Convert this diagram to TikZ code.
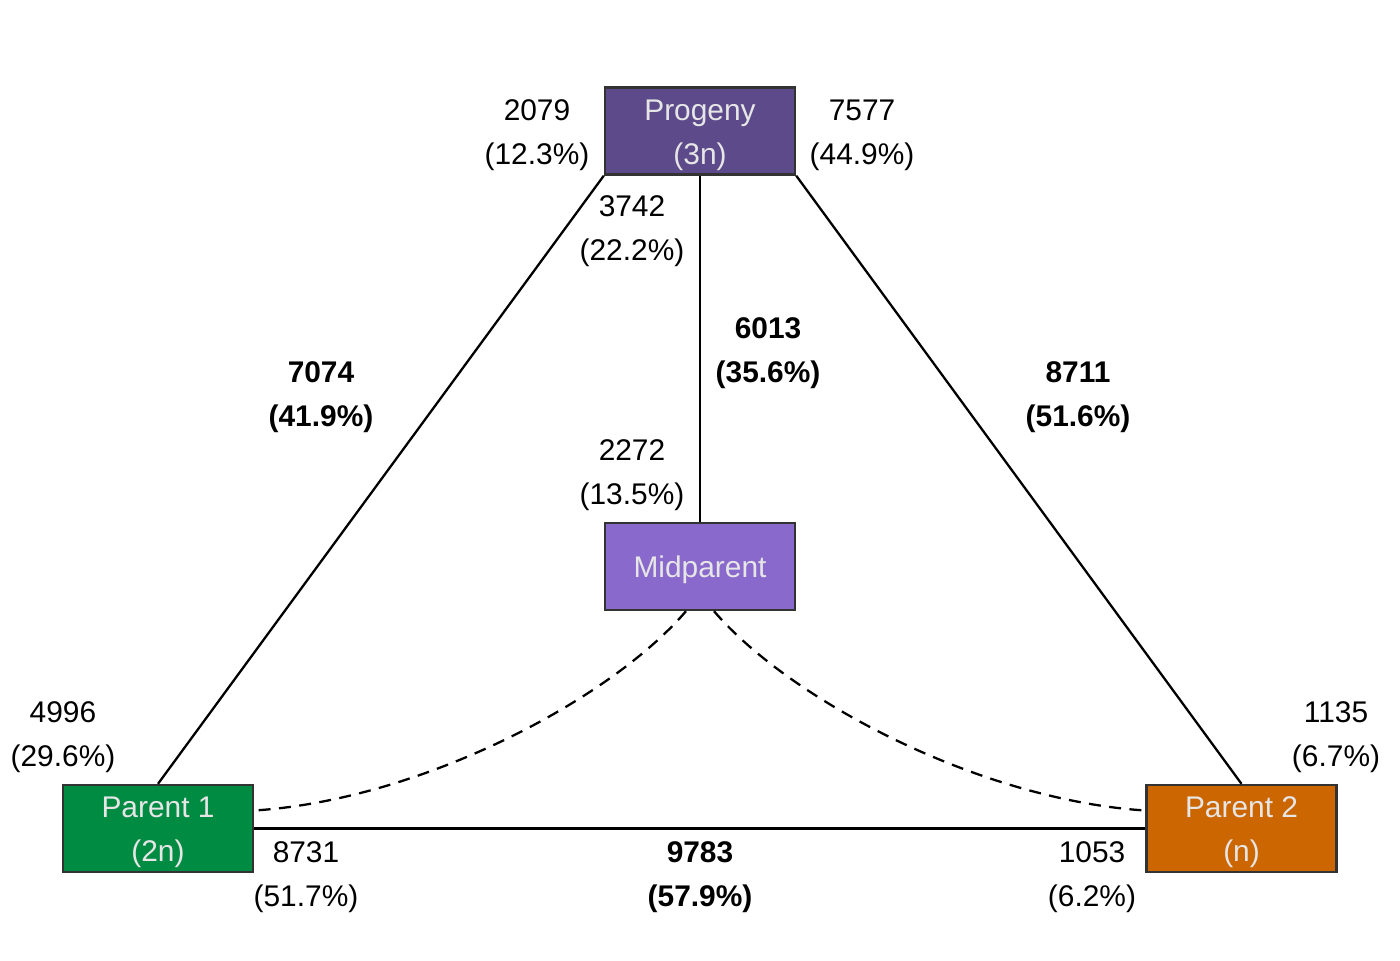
\documentclass[tikz,border=0pt]{standalone}
\usepackage{fontspec}
\setmainfont{Liberation Sans}
\definecolor{progc}{HTML}{5C4A8A}
\definecolor{midc}{HTML}{8A69CC}
\definecolor{p1c}{HTML}{008B43}
\definecolor{p2c}{HTML}{CC6600}
\definecolor{boxtxt}{HTML}{E6E6E6}
\definecolor{boxline}{HTML}{333333}
\begin{document}
\begin{tikzpicture}[x=0.01cm,y=-0.01cm,
  box/.style={draw=boxline,line width=0.65pt,minimum width=1.9cm,minimum height=0.87cm,inner sep=0pt,
    text=boxtxt,align=center,font=\fontsize{8.5pt}{12.5pt}\selectfont},
  lab/.style={align=center,inner sep=0pt,font=\fontsize{8.5pt}{12.5pt}\selectfont},
  blab/.style={lab,font=\fontsize{8.5pt}{12.5pt}\selectfont\bfseries},
  edge/.style={line width=0.65pt},
  dedge/.style={line width=0.65pt,dash pattern=on 3.4pt off 2.4pt}]
\useasboundingbox (0,0) rectangle (1400,960);
\node[box,fill=progc] (prog) at (700,131) {};
\node[box,fill=midc] (mid) at (700,566.5) {};
\node[box,fill=p1c] (p1) at (158,828.5) {};
\node[box,fill=p2c] (p2) at (1241.5,828.5) {};
\node[lab,text=boxtxt] (t1) at (700,135) {Progeny\\(3n)};
\node[lab,text=boxtxt] (t2) at (700,570) {Midparent};
\node[lab,text=boxtxt] (t3) at (158,832) {Parent 1\\(2n)};
\node[lab,text=boxtxt] (t4) at (1241.5,832) {Parent 2\\(n)};
\draw[edge] (prog.south west) -- (p1.north);
\draw[edge] (prog.south) -- (mid.north);
\draw[edge] (prog.south east) -- (p2.north);
\draw[edge] (p1.east) -- (p2.west);
\draw[dedge] ([xshift=-0.14cm]mid.south) .. controls (610,700) and (420,800) .. ([yshift=0.18cm]p1.east);
\draw[dedge] ([xshift=0.14cm]mid.south) .. controls (790,700) and (980,800) .. ([yshift=0.18cm]p2.west);
\node[lab] (l1) at (537,135) {2079\\(12.3\%)};
\node[lab] (l2) at (862,135) {7577\\(44.9\%)};
\node[lab] (l3) at (632,231) {3742\\(22.2\%)};
\node[blab] (l4) at (768,353) {6013\\(35.6\%)};
\node[blab] (l5) at (321,397) {7074\\(41.9\%)};
\node[blab] (l6) at (1078,397) {8711\\(51.6\%)};
\node[lab] (l7) at (632,475) {2272\\(13.5\%)};
\node[lab] (l8) at (63,737) {4996\\(29.6\%)};
\node[lab] (l9) at (1336,737) {1135\\(6.7\%)};
\node[lab] (l10) at (306,877) {8731\\(51.7\%)};
\node[blab] (l11) at (700,877) {9783\\(57.9\%)};
\node[lab] (l12) at (1092,877) {1053\\(6.2\%)};
\end{tikzpicture}
\end{document}
